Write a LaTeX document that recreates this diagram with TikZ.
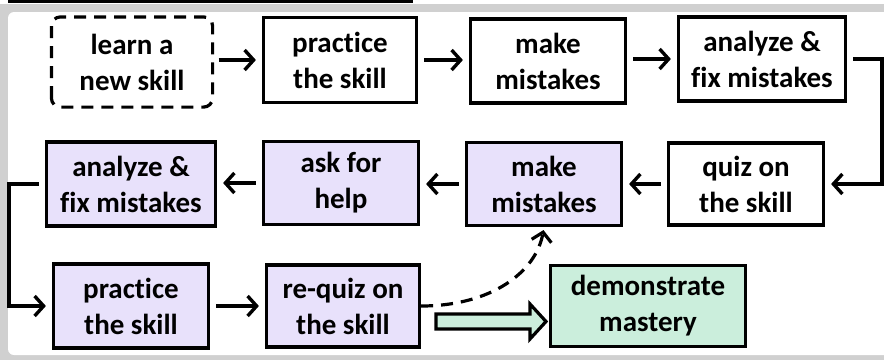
\documentclass[tikz,border=0pt]{standalone}
\usepackage{fontspec}
\setmainfont{Carlito}[Ligatures=NoCommon,RawFeature={-liga}]
\usetikzlibrary{arrows.meta,calc}
\definecolor{lav}{HTML}{E8E1FB}
\definecolor{mint}{HTML}{CBEEDC}
\definecolor{framegray}{HTML}{D0D0D0}
\begin{document}
\begin{tikzpicture}[x=1pt,y=-1pt,
  box/.style={draw=black, line width=3.2pt, inner sep=0pt, align=center,
    font=\fontsize{29}{36}\selectfont\bfseries, text=black,
    minimum width=155pt, minimum height=84pt},
  flow/.style={line width=3.4pt, -{Straight Barb[length=9pt,width=20pt]},
    shorten <=6pt, shorten >=6pt},
  dashline/.style={line width=3.2pt, dash pattern=on 12pt off 8pt}
]
\useasboundingbox (0,0) rectangle (884,360);
\fill[framegray] (0,4) rectangle (884,360);
\fill[white] (884,12) [rounded corners=6pt] -- (8,12) -- (8,355) [sharp corners] -- (884,355) -- cycle;
\fill[black] (8,0) rectangle (413,3);

% row 1
\node[box, draw=none, minimum width=158pt, minimum height=87pt] (learn) at (132,62) {learn a\\new skill};
\draw[dashline, rounded corners=9pt] (learn.south west) rectangle (learn.north east);
\node[box, minimum width=153pt, minimum height=85pt] (prac1) at (340,60) {practice\\the skill};
\node[box, minimum width=155pt, minimum height=84pt] (mist1) at (548,61) {make\\mistakes};
\node[box, minimum width=167pt, minimum height=84pt] (anal1) at (762,59) {analyze \&\\fix mistakes};
% row 2
\node[box, fill=lav, minimum width=169pt, minimum height=84pt] (anal2) at (131,184) {analyze \&\\fix mistakes};
\node[box, fill=lav, minimum width=155pt, minimum height=83pt] (help) at (341,183) {ask for\\help};
\node[box, fill=lav, minimum width=155pt, minimum height=83pt] (mist2) at (544,184) {make\\mistakes};
\node[box, minimum width=155pt, minimum height=82pt] (quiz) at (746,184) {quiz on\\the skill};
% row 3
\node[box, fill=lav, minimum width=155pt, minimum height=84pt] (prac2) at (131,306) {practice\\the skill};
\node[box, fill=lav, minimum width=153pt, minimum height=82pt] (requiz) at (343,306) {re-quiz on\\the skill};
\node[box, fill=mint, minimum width=195pt, minimum height=81pt] (demo) at (648,306) {demonstrate\\mastery};

% connectors
\draw[flow] (learn.east |- prac1.west) -- (prac1.west);
\draw[flow] (prac1.east) -- (prac1.east -| mist1.west);
\draw[flow] (mist1.east |- anal1.west) -- (anal1.west);
\draw[flow] (anal1.east) -- ++(35,0) |- (quiz.east);
\draw[flow] (quiz.west) -- (quiz.west -| mist2.east);
\draw[flow] (mist2.west) -- (mist2.west -| help.east);
\draw[flow] (help.west) -- (help.west -| anal2.east);
\draw[flow] (anal2.west) -- ++(-36,0) |- (prac2.west);
\draw[flow] (prac2.east) -- (prac2.east -| requiz.west);
\draw[dashline, -{Straight Barb[length=9pt,width=20pt]}, shorten >=3pt]
  (requiz.east) .. controls +(70,0) and +(-8,45) .. (mist2.south);
\draw[line width=3.2pt, fill=mint, line join=miter]
  (436,314) -- (530,314) -- (530,304) -- (546,321.5) -- (530,339) -- (530,329) -- (436,329) -- cycle;
\end{tikzpicture}
\end{document}
